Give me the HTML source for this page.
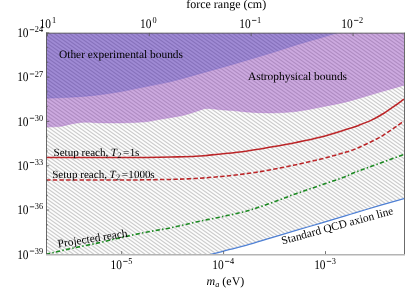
<!DOCTYPE html>
<html><head><meta charset="utf-8"><style>
html,body{margin:0;padding:0;background:#fff;}
svg{display:block;font-family:"Liberation Serif",serif;font-size:11.4px;fill:#000;}
</style></head><body>
<svg width="405" height="289" viewBox="0 0 405 289">
<defs>
<linearGradient id="hg" gradientUnits="userSpaceOnUse" spreadMethod="repeat" x1="49.0" y1="200.5" x2="50.7138" y2="198.0874"><stop offset="0.0000" stop-color="#000" stop-opacity="0.2000"/><stop offset="0.0417" stop-color="#000" stop-opacity="0.1940"/><stop offset="0.0833" stop-color="#000" stop-opacity="0.1771"/><stop offset="0.1250" stop-color="#000" stop-opacity="0.1521"/><stop offset="0.1667" stop-color="#000" stop-opacity="0.1230"/><stop offset="0.2083" stop-color="#000" stop-opacity="0.0935"/><stop offset="0.2500" stop-color="#000" stop-opacity="0.0669"/><stop offset="0.2917" stop-color="#000" stop-opacity="0.0451"/><stop offset="0.3333" stop-color="#000" stop-opacity="0.0286"/><stop offset="0.3750" stop-color="#000" stop-opacity="0.0170"/><stop offset="0.4167" stop-color="#000" stop-opacity="0.0096"/><stop offset="0.4583" stop-color="#000" stop-opacity="0.0050"/><stop offset="0.5000" stop-color="#000" stop-opacity="0.0025"/><stop offset="0.5417" stop-color="#000" stop-opacity="0.0050"/><stop offset="0.5833" stop-color="#000" stop-opacity="0.0096"/><stop offset="0.6250" stop-color="#000" stop-opacity="0.0170"/><stop offset="0.6667" stop-color="#000" stop-opacity="0.0286"/><stop offset="0.7083" stop-color="#000" stop-opacity="0.0451"/><stop offset="0.7500" stop-color="#000" stop-opacity="0.0669"/><stop offset="0.7917" stop-color="#000" stop-opacity="0.0935"/><stop offset="0.8333" stop-color="#000" stop-opacity="0.1230"/><stop offset="0.8750" stop-color="#000" stop-opacity="0.1521"/><stop offset="0.9167" stop-color="#000" stop-opacity="0.1771"/><stop offset="0.9583" stop-color="#000" stop-opacity="0.1940"/><stop offset="1.0000" stop-color="#000" stop-opacity="0.2000"/></linearGradient>
<filter id="idf" x="0" y="0" width="405" height="289" filterUnits="userSpaceOnUse"><feOffset dx="0" dy="0"/></filter>
<clipPath id="c"><rect x="46.0" y="32.9" width="358.0" height="221.4"/></clipPath>
</defs>
<rect width="405" height="289" fill="#fff"/>
<g clip-path="url(#c)">
<path fill="url(#hg)" d="M207.60 255.20 C212.07 254.07 216.53 252.96 221.00 251.80 C224.00 251.02 227.00 250.17 230.00 249.40 C235.33 248.03 240.67 246.90 246.00 245.40 C254.33 243.06 262.67 240.40 271.00 237.90 C279.33 235.40 287.67 232.87 296.00 230.40 C304.33 227.93 312.67 225.57 321.00 223.10 C329.33 220.63 337.67 218.10 346.00 215.60 C349.00 214.70 352.00 213.80 355.00 212.90 C363.33 210.40 371.67 207.85 380.00 205.40 C388.00 203.05 396.00 200.80 404.00 198.50 L404.0 32.9 L46.0 32.9 L46.0 255.20000000000002 Z"/>
<path fill="rgb(132,45,180)" fill-opacity="0.4" d="M46.00 127.00 C50.17 126.87 54.33 126.95 58.50 126.60 C60.67 126.42 62.83 125.83 65.00 125.40 C67.00 125.00 69.00 124.52 71.00 124.10 C73.00 123.68 75.00 123.20 77.00 122.90 C79.17 122.58 81.33 122.36 83.50 122.25 C85.67 122.14 87.83 122.17 90.00 122.25 C92.00 122.32 94.00 122.66 96.00 122.70 C104.33 122.87 112.67 123.05 121.00 122.90 C129.33 122.75 137.67 122.53 146.00 121.80 C150.17 121.43 154.33 120.32 158.50 119.60 C162.67 118.88 166.83 118.22 171.00 117.50 C175.17 116.78 179.33 116.25 183.50 115.25 C187.67 114.25 191.83 112.82 196.00 111.50 C198.00 110.87 200.00 110.00 202.00 109.40 C203.33 109.00 204.67 108.59 206.00 108.50 C208.00 108.37 210.00 108.58 212.00 108.75 C215.00 109.00 218.00 109.49 221.00 109.75 C225.17 110.11 229.33 110.24 233.50 110.60 C237.67 110.96 241.83 111.64 246.00 111.90 C254.33 112.41 262.67 112.97 271.00 112.90 C279.33 112.83 287.67 112.47 296.00 111.50 C304.33 110.53 312.67 108.70 321.00 107.10 C329.33 105.50 337.67 103.76 346.00 101.90 C349.00 101.23 352.00 100.36 355.00 99.50 C363.33 97.10 371.67 94.52 380.00 92.10 C388.00 89.77 396.00 87.53 404.00 85.25 L404.0 32.9 L339 32.9  C333.00 34.32 327.00 36.02 321.00 37.75 C312.67 40.15 304.33 42.44 296.00 45.00 C287.67 47.56 279.33 50.52 271.00 53.10 C262.67 55.68 254.33 58.06 246.00 60.50 C237.67 62.94 229.33 65.38 221.00 67.75 C212.67 70.12 204.33 72.39 196.00 74.70 C187.67 77.01 179.33 79.62 171.00 81.60 C162.67 83.58 154.33 84.93 146.00 86.60 C137.67 88.27 129.33 90.17 121.00 91.60 C112.67 93.03 104.33 94.27 96.00 95.20 C87.67 96.13 79.33 96.70 71.00 97.20 C62.67 97.70 54.33 97.87 46.00 98.20 L46.0 127 Z"/>
<path fill="rgb(65,23,171)" fill-opacity="0.5" d="M46.00 98.20 C54.33 97.87 62.67 97.70 71.00 97.20 C79.33 96.70 87.67 96.13 96.00 95.20 C104.33 94.27 112.67 93.03 121.00 91.60 C129.33 90.17 137.67 88.27 146.00 86.60 C154.33 84.93 162.67 83.58 171.00 81.60 C179.33 79.62 187.67 77.01 196.00 74.70 C204.33 72.39 212.67 70.12 221.00 67.75 C229.33 65.38 237.67 62.94 246.00 60.50 C254.33 58.06 262.67 55.68 271.00 53.10 C279.33 50.52 287.67 47.56 296.00 45.00 C304.33 42.44 312.67 40.15 321.00 37.75 C327.00 36.02 333.00 34.32 339.00 32.60 L46.0 32.9 Z"/>
<path d="M46.00 98.20 C54.33 97.87 62.67 97.70 71.00 97.20 C79.33 96.70 87.67 96.13 96.00 95.20 C104.33 94.27 112.67 93.03 121.00 91.60 C129.33 90.17 137.67 88.27 146.00 86.60 C154.33 84.93 162.67 83.58 171.00 81.60 C179.33 79.62 187.67 77.01 196.00 74.70 C204.33 72.39 212.67 70.12 221.00 67.75 C229.33 65.38 237.67 62.94 246.00 60.50 C254.33 58.06 262.67 55.68 271.00 53.10 C279.33 50.52 287.67 47.56 296.00 45.00 C304.33 42.44 312.67 40.15 321.00 37.75 C327.00 36.02 333.00 34.32 339.00 32.60" fill="none" stroke="rgb(120,100,200)" stroke-opacity="0.55" stroke-width="0.7"/>
<path d="M46.00 127.00 C50.17 126.87 54.33 126.95 58.50 126.60 C60.67 126.42 62.83 125.83 65.00 125.40 C67.00 125.00 69.00 124.52 71.00 124.10 C73.00 123.68 75.00 123.20 77.00 122.90 C79.17 122.58 81.33 122.36 83.50 122.25 C85.67 122.14 87.83 122.17 90.00 122.25 C92.00 122.32 94.00 122.66 96.00 122.70 C104.33 122.87 112.67 123.05 121.00 122.90 C129.33 122.75 137.67 122.53 146.00 121.80 C150.17 121.43 154.33 120.32 158.50 119.60 C162.67 118.88 166.83 118.22 171.00 117.50 C175.17 116.78 179.33 116.25 183.50 115.25 C187.67 114.25 191.83 112.82 196.00 111.50 C198.00 110.87 200.00 110.00 202.00 109.40 C203.33 109.00 204.67 108.59 206.00 108.50 C208.00 108.37 210.00 108.58 212.00 108.75 C215.00 109.00 218.00 109.49 221.00 109.75 C225.17 110.11 229.33 110.24 233.50 110.60 C237.67 110.96 241.83 111.64 246.00 111.90 C254.33 112.41 262.67 112.97 271.00 112.90 C279.33 112.83 287.67 112.47 296.00 111.50 C304.33 110.53 312.67 108.70 321.00 107.10 C329.33 105.50 337.67 103.76 346.00 101.90 C349.00 101.23 352.00 100.36 355.00 99.50 C363.33 97.10 371.67 94.52 380.00 92.10 C388.00 89.77 396.00 87.53 404.00 85.25" fill="none" stroke="rgb(175,120,205)" stroke-opacity="0.55" stroke-width="0.7"/>
<path d="M207.60 255.20 C212.07 254.07 216.53 252.96 221.00 251.80 C224.00 251.02 227.00 250.17 230.00 249.40 C235.33 248.03 240.67 246.90 246.00 245.40 C254.33 243.06 262.67 240.40 271.00 237.90 C279.33 235.40 287.67 232.87 296.00 230.40 C304.33 227.93 312.67 225.57 321.00 223.10 C329.33 220.63 337.67 218.10 346.00 215.60 C349.00 214.70 352.00 213.80 355.00 212.90 C363.33 210.40 371.67 207.85 380.00 205.40 C388.00 203.05 396.00 200.80 404.00 198.50" fill="none" stroke="#4f80d4" stroke-width="1.25"/>
<path d="M46.00 157.50 C74.00 157.50 102.00 157.53 130.00 157.50 C135.33 157.49 140.67 157.47 146.00 157.40 C154.33 157.30 162.67 157.18 171.00 157.00 C179.33 156.82 187.67 156.80 196.00 156.30 C204.33 155.80 212.67 154.84 221.00 154.00 C229.33 153.16 237.67 152.40 246.00 151.25 C254.33 150.10 262.67 148.56 271.00 147.10 C279.33 145.64 287.67 144.18 296.00 142.50 C304.33 140.82 312.67 139.15 321.00 137.00 C329.33 134.85 337.67 132.18 346.00 129.60 C350.17 128.31 354.33 126.93 358.50 125.40 C362.67 123.87 366.83 122.38 371.00 120.40 C375.17 118.42 379.33 116.07 383.50 113.50 C387.67 110.93 391.83 107.95 396.00 105.00 C398.67 103.11 401.33 101.00 404.00 99.00" fill="none" stroke="#bb2528" stroke-width="1.55"/>
<path d="M46.00 180.00 C74.00 180.00 102.00 180.07 130.00 180.00 C135.33 179.99 140.67 179.83 146.00 179.75 C154.33 179.63 162.67 179.62 171.00 179.40 C179.33 179.18 187.67 178.88 196.00 178.40 C204.33 177.92 212.67 177.28 221.00 176.50 C229.33 175.72 237.67 174.82 246.00 173.70 C254.33 172.57 262.67 171.25 271.00 169.75 C279.33 168.25 287.67 166.49 296.00 164.70 C304.33 162.91 312.67 161.10 321.00 159.00 C329.33 156.90 337.67 154.53 346.00 152.10 C349.00 151.23 352.00 150.30 355.00 149.10 C359.17 147.43 363.33 145.47 367.50 143.50 C371.67 141.53 375.83 139.65 380.00 137.25 C384.17 134.85 388.33 131.92 392.50 129.10 C396.33 126.50 400.17 123.70 404.00 121.00" fill="none" stroke="#bb2528" stroke-width="1.55" stroke-dasharray="4.5 2.2"/>
<path d="M46.00 254.25 C54.33 252.33 62.67 250.31 71.00 248.50 C79.33 246.69 87.67 245.22 96.00 243.40 C104.33 241.58 112.67 239.47 121.00 237.60 C129.33 235.73 137.67 233.84 146.00 232.20 C154.33 230.56 162.67 229.45 171.00 227.75 C179.33 226.05 187.67 223.81 196.00 222.00 C204.33 220.19 212.67 218.70 221.00 216.90 C229.33 215.10 237.67 213.52 246.00 211.20 C254.33 208.88 262.67 205.92 271.00 203.00 C279.33 200.08 287.67 196.68 296.00 193.70 C304.33 190.72 312.67 187.98 321.00 185.10 C329.33 182.22 337.67 179.55 346.00 176.40 C349.00 175.27 352.00 173.41 355.00 172.25 C363.33 169.03 371.67 166.27 380.00 163.25 C388.00 160.35 396.00 157.42 404.00 154.50" fill="none" stroke="#1c8a22" stroke-width="1.6" stroke-dasharray="4.3 2.2 1.5 2.2"/>
</g>
<g stroke="#555" stroke-width="0.8"><line x1="46.0" x2="49.2" y1="32.90" y2="32.90"/><line x1="46.0" x2="47.8" y1="47.66" y2="47.66"/><line x1="46.0" x2="47.8" y1="62.42" y2="62.42"/><line x1="46.0" x2="49.2" y1="77.18" y2="77.18"/><line x1="46.0" x2="47.8" y1="91.94" y2="91.94"/><line x1="46.0" x2="47.8" y1="106.70" y2="106.70"/><line x1="46.0" x2="49.2" y1="121.46" y2="121.46"/><line x1="46.0" x2="47.8" y1="136.22" y2="136.22"/><line x1="46.0" x2="47.8" y1="150.98" y2="150.98"/><line x1="46.0" x2="49.2" y1="165.74" y2="165.74"/><line x1="46.0" x2="47.8" y1="180.50" y2="180.50"/><line x1="46.0" x2="47.8" y1="195.26" y2="195.26"/><line x1="46.0" x2="49.2" y1="210.02" y2="210.02"/><line x1="46.0" x2="47.8" y1="224.78" y2="224.78"/><line x1="46.0" x2="47.8" y1="239.54" y2="239.54"/><line x1="46.0" x2="49.2" y1="254.30" y2="254.30"/><line x1="121.7" x2="121.7" y1="254.3" y2="251.10000000000002"/><line x1="223.6" x2="223.6" y1="254.3" y2="251.10000000000002"/><line x1="325.5" x2="325.5" y1="254.3" y2="251.10000000000002"/><line x1="47.4" x2="47.4" y1="32.9" y2="36.1"/><line x1="149.3" x2="149.3" y1="32.9" y2="36.1"/><line x1="251.2" x2="251.2" y1="32.9" y2="36.1"/><line x1="353.1" x2="353.1" y1="32.9" y2="36.1"/></g>
<g stroke="#5a5a5a" stroke-width="0.9" fill="none"><path d="M46.5 32.7 V254.9 M404.5 32.7 V254.9 M46 33.15 H405"/><path d="M46 254.75 H405" stroke="#b4b4b4" stroke-width="1.3"/></g>
<g filter="url(#idf)" style="text-rendering:geometricPrecision">
<text transform="translate(17.15,37.10) scale(1,1.15)">10</text><line x1="29.80" x2="34.20" y1="29.70" y2="29.70" stroke="#000" stroke-width="0.75"/><text transform="translate(34.75,32.30) scale(1,1.1)" font-size="8.3">24</text><text transform="translate(17.15,81.38) scale(1,1.15)">10</text><line x1="29.80" x2="34.20" y1="73.98" y2="73.98" stroke="#000" stroke-width="0.75"/><text transform="translate(34.75,76.58) scale(1,1.1)" font-size="8.3">27</text><text transform="translate(17.15,125.66) scale(1,1.15)">10</text><line x1="29.80" x2="34.20" y1="118.26" y2="118.26" stroke="#000" stroke-width="0.75"/><text transform="translate(34.75,120.86) scale(1,1.1)" font-size="8.3">30</text><text transform="translate(17.15,169.94) scale(1,1.15)">10</text><line x1="29.80" x2="34.20" y1="162.54" y2="162.54" stroke="#000" stroke-width="0.75"/><text transform="translate(34.75,165.14) scale(1,1.1)" font-size="8.3">33</text><text transform="translate(17.15,214.22) scale(1,1.15)">10</text><line x1="29.80" x2="34.20" y1="206.82" y2="206.82" stroke="#000" stroke-width="0.75"/><text transform="translate(34.75,209.42) scale(1,1.1)" font-size="8.3">36</text><text transform="translate(17.15,258.50) scale(1,1.15)">10</text><line x1="29.80" x2="34.20" y1="251.10" y2="251.10" stroke="#000" stroke-width="0.75"/><text transform="translate(34.75,253.70) scale(1,1.1)" font-size="8.3">39</text><text transform="translate(110.55,268.80) scale(1,1.15)">10</text><line x1="123.20" x2="127.60" y1="261.40" y2="261.40" stroke="#000" stroke-width="0.75"/><text transform="translate(128.15,264.00) scale(1,1.1)" font-size="8.3">5</text><text transform="translate(212.35,268.80) scale(1,1.15)">10</text><line x1="225.00" x2="229.40" y1="261.40" y2="261.40" stroke="#000" stroke-width="0.75"/><text transform="translate(229.95,264.00) scale(1,1.1)" font-size="8.3">4</text><text transform="translate(314.15,268.80) scale(1,1.15)">10</text><line x1="326.80" x2="331.20" y1="261.40" y2="261.40" stroke="#000" stroke-width="0.75"/><text transform="translate(331.75,264.00) scale(1,1.1)" font-size="8.3">3</text><text transform="translate(39.45,27.80) scale(1,1.15)">10</text><text transform="translate(51.95,23.00) scale(1,1.1)" font-size="8.3">1</text><text transform="translate(140.10,27.80) scale(1,1.15)">10</text><text transform="translate(152.60,23.00) scale(1,1.1)" font-size="8.3">0</text><text transform="translate(239.35,27.80) scale(1,1.15)">10</text><line x1="252.00" x2="256.40" y1="20.40" y2="20.40" stroke="#000" stroke-width="0.75"/><text transform="translate(256.95,23.00) scale(1,1.1)" font-size="8.3">1</text><text transform="translate(341.35,27.80) scale(1,1.15)">10</text><line x1="354.00" x2="358.40" y1="20.40" y2="20.40" stroke="#000" stroke-width="0.75"/><text transform="translate(358.95,23.00) scale(1,1.1)" font-size="8.3">2</text>
<text x="226.2" y="8.3" text-anchor="middle" font-size="12">force range (cm)</text>
<text x="225.4" y="285.2" text-anchor="middle" font-size="12"><tspan font-style="italic">m</tspan><tspan font-style="italic" font-size="8.3" dy="1.8">a</tspan><tspan dy="-1.8"> (eV)</tspan></text>
<text x="59" y="58">Other experimental bounds</text>
<text x="248" y="80.3">Astrophysical bounds</text>
<text x="53.5" y="155.6" font-size="11.1">Setup reach, <tspan font-style="italic" dx="-0.4">T</tspan><tspan font-size="8.4" dy="2.3" dx="0.3">2</tspan><tspan dy="-2.3" dx="1.7">=</tspan><tspan dx="0.3">1</tspan><tspan dx="-0.3">s</tspan></text>
<text x="52.2" y="177.6" font-size="11.1">Setup reach, <tspan font-style="italic" dx="-0.4">T</tspan><tspan font-size="8.4" dy="2.3" dx="0.3">2</tspan><tspan dy="-2.3" dx="1.7">=</tspan><tspan dx="0.3">1000</tspan><tspan dx="-0.3">s</tspan></text>
<text transform="translate(58.3,247.6) rotate(-9)">Projected reach</text>
<text transform="translate(282.6,244.5) rotate(-15.4)">Standard QCD axion line</text>
</g>
</svg>
</body></html>
